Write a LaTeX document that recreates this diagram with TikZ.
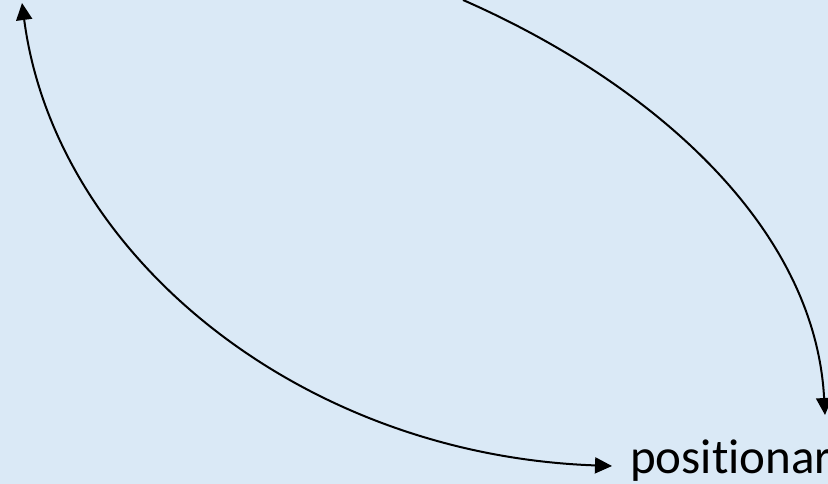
\documentclass[tikz,border=0pt]{standalone}
\usepackage{fontspec}
\setmainfont{Carlito}[RawFeature=-liga]
\usetikzlibrary{arrows.meta}
\definecolor{bgblue}{RGB}{218,233,246}
\tikzset{
  tip/.style={Triangle[length=17bp,width=16bp]},
  conn/.style={line width=2bp, -{Triangle[length=17bp,width=16bp]}},
  lbl/.style={inner sep=0pt, font=\fontsize{49bp}{58bp}\selectfont, anchor=base west}
}
\begin{document}
\begin{tikzpicture}[x=1bp,y=-1bp]
\useasboundingbox (0,0) rectangle (828,484);
\clip (0,0) rectangle (828,484);
\fill[bgblue] (0,0) rectangle (828,484);
\node[lbl] (txt) at (630,473) {positionar};
\coordinate (tl) at (22,3);
\coordinate (bl) at (612,466);
\coordinate (top) at (463,0);
\coordinate (br) at (825,415);
\draw[conn, {Triangle[length=17bp,width=16bp]}-{Triangle[length=17bp,width=16bp]}] (tl) .. controls (55,255) and (300,455) .. (bl);
\draw[conn] (top) .. controls (650,82) and (815,225) .. (br);
\end{tikzpicture}
\end{document}
